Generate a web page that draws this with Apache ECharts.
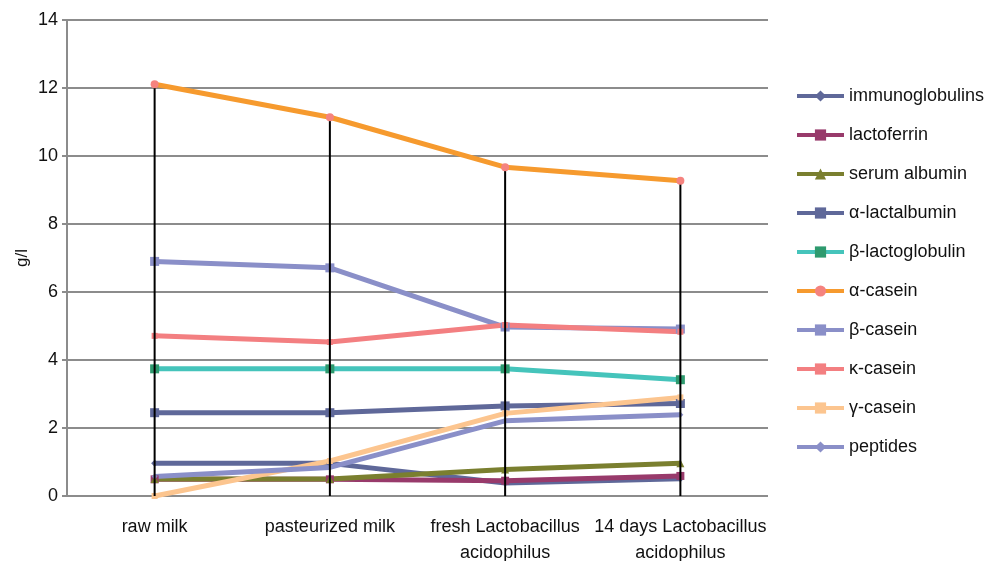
<!DOCTYPE html>
<html>
<head>
<meta charset="utf-8">
<script src="https://cdn.jsdelivr.net/npm/echarts@6/dist/echarts.min.js"></script>
<style>
  html, body { margin: 0; padding: 0; background: #fff; }
  #chart { width: 987px; height: 561px; }
</style>
</head>
<body>
<div id="chart"></div>
<script>
// Sample categories (x axis)
const categories = ['raw milk', 'pasteurized milk', 'fresh Lactobacillus\nacidophilus', '14 days Lactobacillus\nacidophilus'];

// Protein concentrations in g/l
const immunoglobulins = [0.96, 0.96, 0.38, 0.51];
const lactoferrin     = [0.49, 0.49, 0.45, 0.59];
const serumAlbumin    = [0.50, 0.50, 0.78, 0.96];
const alphaLactalbumin = [2.45, 2.45, 2.65, 2.72];
const betaLactoglobulin = [3.74, 3.74, 3.74, 3.42];
const alphaCasein     = [12.11, 11.14, 9.67, 9.27];
const betaCasein      = [6.90, 6.71, 4.97, 4.91];
const kappaCasein     = [4.71, 4.53, 5.03, 4.83];
const gammaCasein     = [0.00, 1.03, 2.43, 2.90];
const peptides        = [0.57, 0.84, 2.21, 2.39];

const yTicks = [0, 2, 4, 6, 8, 10, 12, 14];
const yAxisTitle = 'g/l';

const seriesDefs = [
  { name: 'immunoglobulins', data: immunoglobulins, color: '#5f6899', symbol: 'diamond', size: 7, mcolor: '#5f6899' },
  { name: 'lactoferrin', data: lactoferrin, color: '#983a6b', symbol: 'rect', size: 8, mcolor: '#983a6b' },
  { name: 'serum albumin', data: serumAlbumin, color: '#7a7f2f', symbol: 'triangle', size: 8, mcolor: '#7a7f2f' },
  { name: 'α-lactalbumin', data: alphaLactalbumin, color: '#5f6899', symbol: 'rect', size: 9, mcolor: '#5f6899' },
  { name: 'β-lactoglobulin', data: betaLactoglobulin, color: '#45c4bb', symbol: 'rect', size: 9, mcolor: '#2e9a6e' },
  { name: 'α-casein', data: alphaCasein, color: '#f69a2e', symbol: 'circle', size: 8, mcolor: '#f5837f' },
  { name: 'β-casein', data: betaCasein, color: '#8a8fc8', symbol: 'rect', size: 9, mcolor: '#8a8fc8' },
  { name: 'κ-casein', data: kappaCasein, color: '#f37f81', symbol: 'rect', size: 6, mcolor: '#f37f81' },
  { name: 'γ-casein', data: gammaCasein, color: '#fcc58f', symbol: 'rect', size: 6, mcolor: '#fcc58f' },
  { name: 'peptides', data: peptides, color: '#8a8fc8', symbol: 'diamond', size: 6, mcolor: '#8a8fc8' }
];

const chart = echarts.init(document.getElementById('chart'), null, { renderer: 'canvas' });

const series = seriesDefs.map(function (d) {
  return {
    name: d.name,
    type: 'line',
    data: d.data,
    symbol: d.symbol,
    symbolSize: d.size,
    showSymbol: true,
    lineStyle: { color: d.color, width: 5 },
    itemStyle: { color: d.mcolor, borderColor: d.mcolor, borderWidth: 0 },
    emphasis: { disabled: true },
    animation: false,
    z: 3
  };
});

// Drop lines from the highest series down to the category axis
series.push({
  name: 'drop',
  type: 'custom',
  data: alphaCasein.map(function (v, i) { return [i, v]; }),
  renderItem: function (params, api) {
    const top = api.coord([api.value(0), api.value(1)]);
    const bottom = api.coord([api.value(0), 0]);
    return {
      type: 'line',
      shape: { x1: top[0], y1: top[1], x2: bottom[0], y2: bottom[1] },
      style: { stroke: '#000', lineWidth: 2 }
    };
  },
  silent: true,
  animation: false,
  z: 4
});

// keep the top markers of α-casein above the drop lines
series[5].z = 5;

chart.setOption({
  animation: false,
  backgroundColor: '#ffffff',
  textStyle: { fontFamily: 'Liberation Sans, Arial, sans-serif' },
  grid: { left: 67, right: 219, top: 20, bottom: 65, containLabel: false, outerBoundsMode: 'none' },
  legend: {
    orient: 'vertical',
    left: 790,
    top: 82,
    itemWidth: 47,
    itemHeight: 14,
    itemGap: 21,
    lineStyle: { width: 4 },
    data: seriesDefs.map(function (d) { return d.name; }),
    textStyle: { fontSize: 18, color: '#111', fontFamily: 'Liberation Sans, Arial, sans-serif' },
    selectedMode: false
  },
  // vertical axis title
  graphic: [{
    type: 'text',
    x: 22,
    y: 258,
    rotation: Math.PI / 2,
    style: {
      text: yAxisTitle,
      fontSize: 17,
      fontFamily: 'Liberation Sans, Arial, sans-serif',
      fill: '#111',
      align: 'center',
      verticalAlign: 'middle'
    }
  }],
  xAxis: {
    type: 'category',
    data: categories,
    boundaryGap: true,
    axisLine: { show: false },
    axisTick: { show: false },
    axisLabel: { fontSize: 18, color: '#111', margin: 18, lineHeight: 26, interval: 0, align: 'center' },
    splitLine: { show: false }
  },
  yAxis: {
    type: 'value',
    min: 0,
    max: 14,
    interval: 2,
    axisLine: { show: true, lineStyle: { color: '#8c8c8c', width: 2 } },
    axisTick: { show: true, length: 5, lineStyle: { color: '#8c8c8c', width: 2 } },
    axisLabel: { fontSize: 18, color: '#111', margin: 9,
      formatter: function (v) { return yTicks.indexOf(v) >= 0 ? String(v) : ''; } },
    splitLine: { show: true, lineStyle: { color: '#8c8c8c', width: 2 } }
  },
  series: series
});
</script>
</body>
</html>
